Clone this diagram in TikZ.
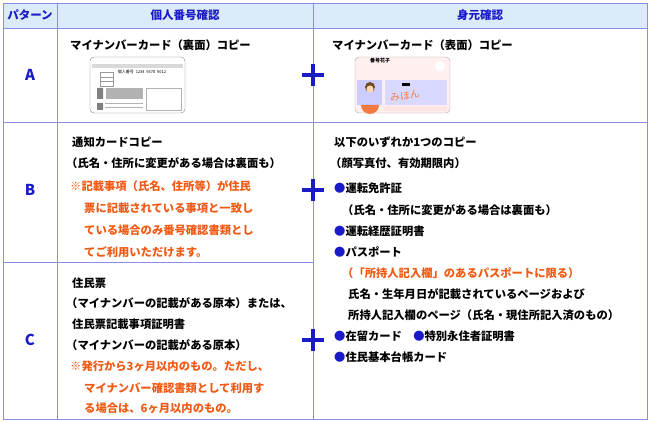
\documentclass[tikz,border=0pt]{standalone}
\usepackage{fontspec}
\setmainfont{Noto Sans CJK JP}
\definecolor{bl}{HTML}{1A1AC8}
\definecolor{hd}{HTML}{DCEBFA}
\definecolor{ln}{HTML}{8C8CE6}
\definecolor{or}{HTML}{F05A14}
\tikzset{t/.style={anchor=west,inner sep=0,font=\bfseries\fontsize{11.3}{12}\selectfont},
 o/.style={t,text=or},
 h/.style={font=\bfseries\fontsize{11.5}{12}\selectfont,text=bl},
 plus/.style={line width=4.5pt,bl}}
\begin{document}
\begin{tikzpicture}[x=1pt,y=-1pt]
\useasboundingbox (0,0) rectangle (650,422);
\fill[hd] (3,3) rectangle (647,28);
\draw[ln,line width=0.8pt] (3,3) rectangle (647,419);
\draw[ln,line width=0.8pt] (3,28)--(647,28) (3,122)--(647,122) (3,262)--(313,262)
 (57,3)--(57,419) (313,3)--(313,419);
\node[h] (h1) at (30,15) {パターン};
\node[h] (h2) at (185,15) {個人番号確認};
\node[h] (h3) at (480,15) {身元確認};
\node[h,font=\bfseries\fontsize{15}{15}\selectfont] (pa) at (30,75) {A};
\node[h,font=\bfseries\fontsize{15}{15}\selectfont] (pb) at (30,190) {B};
\node[h,font=\bfseries\fontsize{15}{15}\selectfont] (pc) at (30,340) {C};
\foreach \y in {75,190,340}{\draw[plus] (313,\y-11)--(313,\y+11) (302,\y)--(324,\y);}
% A
\node[t] (a1) at (70,45) {マイナンバーカード（裏面）コピー};
\node[t] (a2) at (332,45) {マイナンバーカード（表面）コピー};
% back card
\draw[gray,fill=white,rounded corners=4pt] (90,57) rectangle (185,113);
\fill[gray!30] (92,64) rectangle (183,68);
\draw[gray!80,line width=0.3pt] (100,72) rectangle (113,86) (100,77)--(113,77) (100,81)--(113,81);
\node[inner sep=0,font=\fontsize{4}{4}\selectfont] (an) at (142,72) {個人番号 \ 1234 \ 5678 \ 9012};
\fill[gray!60] (106,88) rectangle (143,99);
\draw[gray!60,line width=0.5pt] (105,103)--(143,103) (105,107)--(143,107);
\draw[gray!60,line width=0.3pt] (146,88) rectangle (181,110);
\fill[gray] (97,88) rectangle (103,99) (97,103) rectangle (103,110);
% front card
\draw[gray!70,fill=pink!25,rounded corners=4pt] (355,57) rectangle (450,113);
\fill[blue!15] (385,80) rectangle (447,105);
\fill[pink!40] (384,106) rectangle (447,111);
\node[inner sep=0,font=\bfseries\fontsize{5}{5}\selectfont] (an2) at (380,61) {番号花子};
\fill[white] (440,66) circle (5);
\fill[blue!20] (357,80) rectangle (382,105);
\fill[brown!60!black] (370,87) circle (5);
\fill[orange!30] (370,89) circle (3.5);
\fill[or!80] (361,105) arc (180:0:9) -- cycle;
\fill[black] (402,83) rectangle (410,86);
\node[inner sep=0,text=or!80,font=\fontsize{10}{10}\selectfont,rotate=8] (mh) at (405,96) {みほん};
% B left
\node[t] (b1) at (72,142) {通知カードコピー};
\node[t] (b2) at (66,163) {（氏名・住所に変更がある場合は裏面も）};
\node[o] (b3) at (70,186) {※記載事項（氏名、住所等）が住民};
\node[o] (b4) at (84,208) {票に記載されている事項と一致し};
\node[o] (b5) at (84,230) {ている場合のみ番号確認書類とし};
\node[o] (b6) at (84,252) {てご利用いただけます。};
% C left
\node[t] (c1) at (72,283) {住民票};
\node[t] (c2) at (66,303) {（マイナンバーの記載がある原本）または、};
\node[t] (c3) at (72,324) {住民票記載事項証明書};
\node[t] (c4) at (66,345) {（マイナンバーの記載がある原本）};
\node[o] (c5) at (70,366) {※発行から3ヶ月以内のもの。ただし、};
\node[o] (c6) at (84,388) {マイナンバー確認書類として利用す};
\node[o] (c7) at (84,408) {る場合は、6ヶ月以内のもの。};
% right B/C
\node[t] (r1) at (334,142) {以下のいずれか1つのコピー};
\node[t] (r2) at (330,163) {（顔写真付、有効期限内）};
\node[t] (r3) at (334,188) {\textcolor{bl}{●}運転免許証};
\node[t] (r4) at (342,210) {（氏名・住所に変更がある場合は裏面も）};
\node[t] (r5) at (334,231) {\textcolor{bl}{●}運転経歴証明書};
\node[t] (r6) at (334,252) {\textcolor{bl}{●}パスポート};
\node[o] (r7) at (342,273) {（「所持人記入欄」のあるパスポートに限る）};
\node[t] (r8) at (348,294) {氏名・生年月日が記載されているページおよび};
\node[t] (r9) at (348,315) {所持人記入欄のページ（氏名・現住所記入済のもの）};
\node[t] (r10) at (334,336) {\textcolor{bl}{●}在留カード\hspace{1em}\textcolor{bl}{●}特別永住者証明書};
\node[t] (r11) at (334,357) {\textcolor{bl}{●}住民基本台帳カード};
\end{tikzpicture}
\end{document}
